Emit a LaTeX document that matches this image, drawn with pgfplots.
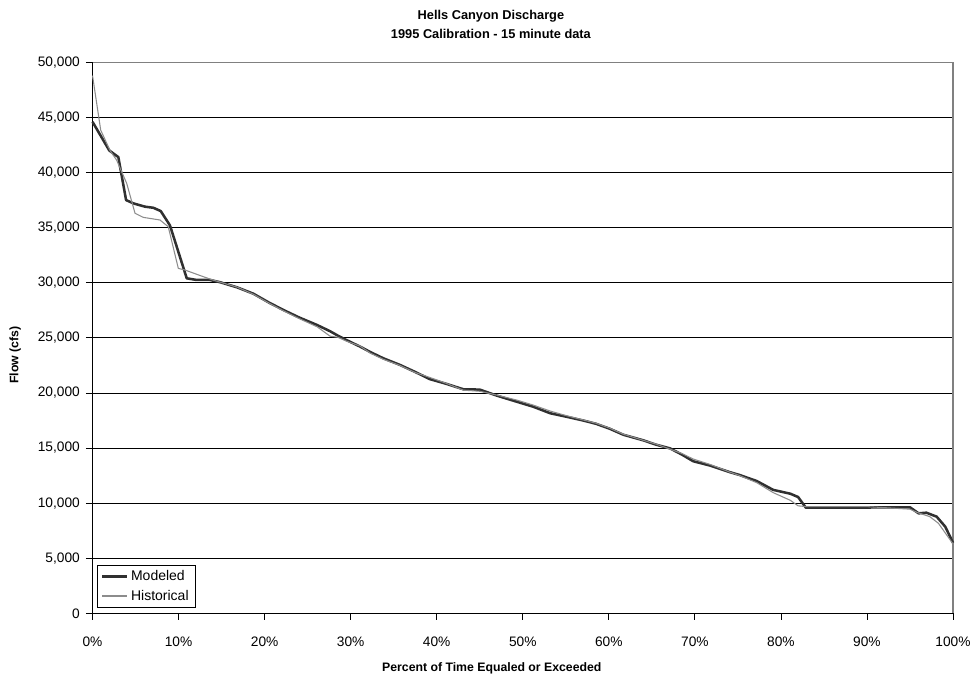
\documentclass[border=0pt]{standalone}
\usepackage{fontspec}
\setmainfont{Liberation Sans}
\usepackage{pgfplots}
\pgfplotsset{compat=1.18}

\definecolor{modeled}{HTML}{303030}
\definecolor{historical}{HTML}{8C8C8C}
\definecolor{frame}{HTML}{808080}

\begin{document}
\begin{tikzpicture}
\useasboundingbox (-69.4pt,-50.8pt) rectangle (661.9pt,460pt);
\begin{axis}[
    at={(0,0)}, anchor=south west,
    scale only axis,
    width=645.4pt, height=413.25pt,
    xmin=0, xmax=100,
    ymin=0, ymax=50000,
    xtick={0,10,...,100},
    ytick={0,5000,...,50000},
    axis x line*=bottom,
    axis y line*=left,
    axis line style={black, line width=0.8pt, -},
    tick style={black, line width=0.6pt},
    xtick align=outside,
    ytick align=outside,
    major tick length=5pt,
    ymajorgrids=true,
    grid style={black, line width=0.6pt},
    /pgf/number format/assume math mode=true,
    /pgf/number format/1000 sep={,},
    xticklabel={\pgfmathprintnumber{\tick}\%},
    scaled y ticks=false,
    ticklabel style={font=\fontsize{10.3}{12}\selectfont},
    xticklabel style={yshift=-9pt},
    yticklabel style={xshift=-1pt},
    title={Hells Canyon Discharge\\1995 Calibration - 15 minute data},
    title style={font=\bfseries\fontsize{9.6}{14.25}\selectfont, align=center,
        at={(axis description cs:0.463,1.054)}, anchor=center},
    xlabel={Percent of Time Equaled or Exceeded},
    xlabel style={font=\bfseries\fontsize{9.2}{11}\selectfont,
        at={(axis description cs:0.464,-0.0993)}, anchor=center},
    ylabel={Flow (cfs)},
    ylabel style={font=\bfseries\fontsize{9.2}{11}\selectfont,
        at={(axis description cs:-0.090,0.469)}, anchor=center, rotate=0},
    legend style={at={(axis description cs:0.005,0.01)}, anchor=south west,
        draw=black, line width=0.6pt, fill=white,
        font=\fontsize{10.5}{12}\selectfont,
        inner xsep=3pt, inner ysep=2pt, row sep=1.5pt},
    legend cell align=left,
    legend image code/.code={\draw[#1] (0cm,0cm) -- (0.65cm,0cm);},
    clip=false,
]
\draw[frame, line width=0.8pt] (rel axis cs:0,1) -- (rel axis cs:1,1) -- (rel axis cs:1,0);

\addplot[modeled, line width=1.9pt, line join=round] coordinates {
(0,44600) (1.95,42000) (3.0,41400) (3.9,37500) (4.74,37200) (6.1,36900)
(7.07,36800) (7.93,36500) (9.0,35200) (10.95,30400) (12.1,30250) (13.65,30250)
(14.8,30050) (16.8,29580) (18.7,29000) (20.5,28200) (22.2,27520) (24.0,26850)
(26.1,26160) (27.6,25600) (28.5,25200) (29.5,24800) (31.1,24200) (32.3,23700)
(33.8,23140) (35.7,22550) (37.5,21900) (39.2,21250) (41.0,20850) (43.1,20330)
(45.0,20300) (47.0,19750) (49.3,19200) (51.2,18750) (53.2,18150) (55.0,17850)
(57.0,17500) (58.5,17200) (60.1,16750) (61.7,16200) (64.0,15700) (65.5,15300)
(67.1,14970) (68.5,14400) (69.8,13800) (71.8,13400) (74.1,12800) (75.2,12550)
(77.2,12000) (79.1,11200) (81.1,10850) (82.0,10550) (82.9,9580) (90,9600)
(95.0,9620) (96.0,9070) (96.9,9130) (98.1,8770) (99.1,7860) (100,6400)
};
\addlegendentry{Modeled}

\addplot[historical, line width=0.8pt, line join=round] coordinates {
(0,48800) (0.95,43850) (2.03,42000) (2.8,41130) (3.97,39020) (4.94,36300)
(5.9,35930) (7.84,35690) (8.8,35080) (9.97,31300) (10.75,31150) (12.9,30540)
(14.0,30240) (16.8,29600) (18.7,28950) (20.5,28150) (22.2,27450) (24.0,26750)
(26.1,26000) (27.6,25150) (28.5,25050) (29.5,24700) (31.1,24250) (32.3,23600)
(33.8,23050) (35.7,22500) (37.5,21850) (39.2,21400) (41.0,20900) (43.1,20250)
(45.0,20150) (47.0,19800) (49.3,19350) (51.2,18900) (53.2,18350) (55.0,17950)
(57.0,17550) (58.5,17250) (60.1,16800) (61.7,16250) (64.0,15700) (65.5,15350)
(67.1,14900) (68.5,14500) (69.8,14000) (71.8,13500) (74.1,12800) (75.2,12500)
(77.2,11850) (79.1,10950) (81.1,10250) (82.0,9750) (83,9680) (90,9680)
(95.0,9450) (95.8,9160) (97.3,8770) (98.3,8170) (100,6300)
};
\addlegendentry{Historical}
\end{axis}
\end{tikzpicture}
\end{document}
